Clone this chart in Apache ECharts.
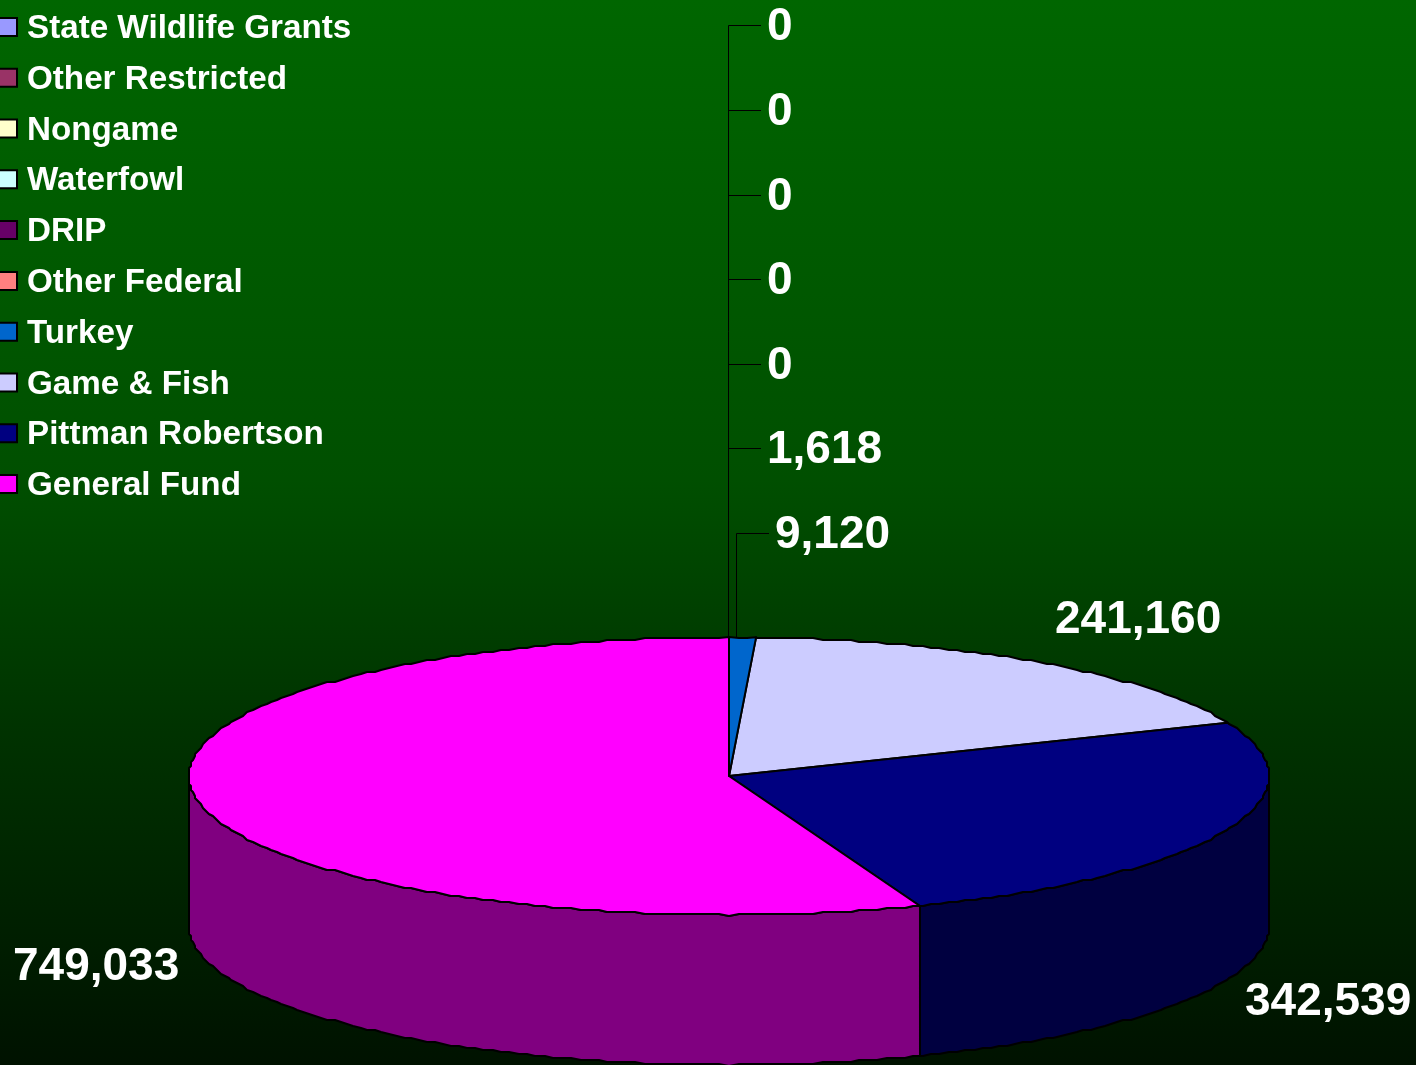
<!DOCTYPE html>
<html>
<head>
<meta charset="utf-8">
<style>html,body{margin:0;padding:0;background:#000}#c{width:1416px;height:1065px}</style>
<script src="https://cdn.jsdelivr.net/npm/echarts@6/dist/echarts.min.js"></script>
</head>
<body>
<div id="c"></div>
<script>
// Data (legend order, top to bottom)
var categories = ['State Wildlife Grants','Other Restricted','Nongame','Waterfowl','DRIP','Other Federal','Turkey','Game & Fish','Pittman Robertson','General Fund'];
var values = [0,0,0,0,0,1618,9120,241160,342539,749033];
var topColors = ['#9999FF','#993366','#FFFFCC','#CCFFFF','#660066','#FF8080','#0066CC','#CCCCFF','#000080','#FF00FF'];
var sideColors = ['#4D4D80','#4D1A33','#808066','#668080','#330033','#804040','#003366','#666680','#000040','#800080'];

// Layout (separate from data)
var PIE = {cx:729, cy:776, rx:540, ry:139, depth:150, step:1, grid:2};
var labelPos = [[767,27],[767,112],[767,197],[767,281],[767,366],[767,450],[775,535],[1055,620],[1245,1002],[13,967]];
var leaders = [
  [[728.5,637],[728.5,25.5],[761,25.5]],
  [[728.5,110.5],[761,110.5]],
  [[728.5,195.5],[761,195.5]],
  [[728.5,279.5],[761,279.5]],
  [[728.5,364.5],[761,364.5]],
  [[728.5,448.5],[761,448.5]],
  [[736.5,637],[736.5,533.5],[769,533.5]],
  null,null,null
];
var total = values.reduce(function(a,b){return a+b;},0);
var MIN_VISIBLE_DEG = 0.5; // slices thinner than this vanish under the neighbour's outline
function fmt(v){return v.toLocaleString('en-US');}
function rimPoint(deg,dy,snap){
  var a=deg*Math.PI/180;
  var x=PIE.cx+PIE.rx*Math.sin(a), y=PIE.cy-PIE.ry*Math.cos(a);
  if(snap){ // the reference's rim is a coarse, stepped outline
    x=PIE.cx+Math.round((x-PIE.cx)/PIE.grid)*PIE.grid;
    y=PIE.cy+Math.round((y-PIE.cy)/PIE.grid)*PIE.grid;
  }
  return [x,y+(dy||0)];
}
function arc(from,to,dy){
  var pts=[rimPoint(from,dy,false)];
  var k=Math.floor(from/PIE.step)+1;
  while(k*PIE.step<to){pts.push(rimPoint(k*PIE.step,dy,true));k++;}
  pts.push(rimPoint(to,dy,false));
  return pts;
}
function makeRender(idx){
  return function(params,api){
    var value=api.value(1);
    var before=0;
    for(var k=0;k<idx;k++)before+=values[k];
    var a0=before/total*360,a1=(before+value)/total*360;
    if(idx>0&&values[idx-1]>0&&values[idx-1]/total*360<MIN_VISIBLE_DEG){a0-=values[idx-1]/total*360;}
    var children=[];
    function px(pts){return pts.map(function(p){return api.coord(p);});}
    var lineStyle={fill:topColors[idx],stroke:'#000',lineWidth:2,lineJoin:'round'};
    if(value>0&&a1-a0>=MIN_VISIBLE_DEG){
      // visible outer wall: the front half of the rim, 90deg to 270deg clockwise from the top
      var w0=Math.max(a0,90),w1=Math.min(a1,270);
      if(w1>w0){
        var wall=arc(w0,w1,0).concat(arc(w0,w1,PIE.depth).reverse());
        children.push({type:'polygon',shape:{points:px(wall)},
          style:{fill:sideColors[idx],stroke:'#000',lineWidth:2,lineJoin:'round'}});
      }
      var top=[[PIE.cx,PIE.cy]].concat(arc(a0,a1,0));
      children.push({type:'polygon',shape:{points:px(top)},style:lineStyle});
    }
    if(leaders[idx]){
      children.push({type:'polyline',shape:{points:px(leaders[idx])},
        style:{fill:'none',stroke:'#000',lineWidth:1},z2:5});
    }
    var lp=api.coord(labelPos[idx]);
    children.push({type:'text',x:lp[0],y:lp[1],z2:6,style:{
      text:fmt(value),fill:'#fff',font:'bold 46px "Liberation Sans", Arial, sans-serif',
      textAlign:'left',textVerticalAlign:'middle'}});
    return {type:'group',children:children};
  };
}
var series=categories.map(function(name,i){
  return {type:'custom',name:name,coordinateSystem:'cartesian2d',silent:true,clip:false,
    z:i<=6?3:2,
    encode:{x:0,y:1},data:[[i,values[i]]],renderItem:makeRender(i)};
});
var chart=echarts.init(document.getElementById('c'),null,{renderer:'canvas'});
chart.setOption({
  animation:false,
  backgroundColor:{type:'linear',x:0,y:0,x2:0,y2:1,colorStops:[
    {offset:0,color:'#006600'},{offset:0.45,color:'#004f00'},{offset:0.68,color:'#003300'},{offset:1,color:'#001200'}]},
  tooltip:{show:false},
  legend:{show:true,orient:'vertical',left:-2,top:8.5,selectedMode:false,padding:0,
    itemWidth:18,itemHeight:18,itemGap:13.78,
    formatter:function(n){return '{t|'+n+'}';},
    textStyle:{color:'#fff',fontFamily:'"Liberation Sans", Arial, sans-serif',fontWeight:'bold',fontSize:33.2,
      rich:{t:{color:'#fff',fontFamily:'"Liberation Sans", Arial, sans-serif',fontWeight:'bold',fontSize:33.2,lineHeight:37,padding:[4,0,0,5]}}},
    data:categories.map(function(n,i){return {name:n,icon:'rect',
      itemStyle:{color:topColors[i],borderColor:'#000',borderWidth:2}};})},
  grid:{left:0,right:0,top:0,bottom:0},
  xAxis:{type:'value',min:0,max:1416,show:false},
  yAxis:{type:'value',min:0,max:1065,inverse:true,show:false},
  series:series
});
</script>
</body>
</html>
